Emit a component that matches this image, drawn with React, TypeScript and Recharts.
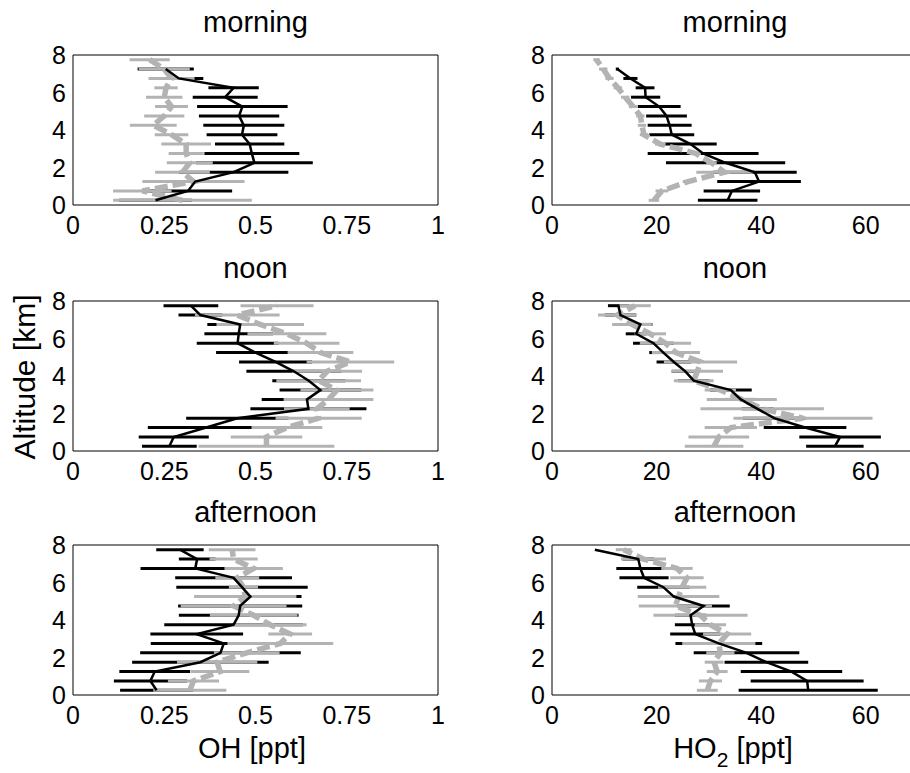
import { ScatterChart, Scatter, XAxis, YAxis, ErrorBar } from 'recharts';

const FONT = 'Arial, "Liberation Sans", Helvetica, sans-serif';

// altitude levels [km], bottom to top
const ALT = [0.25, 0.75, 1.25, 1.75, 2.25, 2.75, 3.25, 3.75, 4.25, 4.75, 5.25, 5.75, 6.25, 6.75, 7.25, 7.75];
const ALT_TICKS = [0, 2, 4, 6, 8];
const OH_TICKS = [0, 0.25, 0.5, 0.75, 1];
const HO2_TICKS = [0, 20, 40, 60];

// morning
const morningOH = [0.226, 0.315, 0.335, 0.44, 0.497, 0.49, 0.484, 0.463, 0.468, 0.455, 0.464, 0.417, 0.44, 0.29, 0.254, null];
const morningOHErr = [0.1, 0.121, 0.1, 0.15, 0.16, 0.13, 0.095, 0.097, 0.111, 0.11, 0.124, 0.089, 0.069, 0.067, 0.077, null];
const morningOHModel = [0.3, 0.19, 0.33, 0.3, 0.32, 0.31, 0.31, 0.27, 0.22, 0.25, 0.27, 0.25, 0.255, 0.27, 0.25, 0.21];
const morningOHModelErr = [0.19, 0.08, 0.14, 0.075, 0.063, 0.048, 0.068, 0.046, 0.064, 0.055, 0.045, 0.05, 0.032, 0.063, 0.07, 0.055];

const morningHO2 = [33.6, 34.4, 39.6, 38.8, 33.2, 28.9, 26.5, 22.9, 22.5, 21.9, 20.5, 17.9, 17.8, 15.0, 12.5, null];
const morningHO2Err = [5.7, 5.4, 8, 8, 11.4, 10.6, 5, 4.3, 4.2, 3.9, 4.1, 2.8, 1.8, 1.35, 0.3, null];
const morningHO2Model = [19.5, 21.0, 26.0, 33.0, 30.5, 27.5, 20.7, 17.6, 17.2, 16.9, 15.5, 14.0, 12.6, 11.0, 9.8, 8.5];
const morningHO2ModelErr = [1, 1.2, 1, 5.4, 1, 1, 1, 0.8, 0.8, 0.8, 0.8, 0.8, 0.8, 0.8, 0.8, 0.6];

// noon
const noonOH = [0.264, 0.276, 0.365, 0.45, 0.645, 0.641, 0.678, 0.646, 0.605, 0.555, 0.5, 0.451, 0.454, 0.458, 0.349, 0.323];
const noonOHErr = [0.075, 0.096, 0.16, 0.14, 0.159, 0.124, 0.112, 0.1, 0.13, 0.1, 0.108, 0.112, 0.094, 0.09, 0.06, 0.075];
const noonOHModel = [0.53, 0.53, 0.586, 0.673, 0.668, 0.7, 0.723, 0.673, 0.696, 0.76, 0.678, 0.64, 0.586, 0.513, 0.45, 0.559];
const noonOHModelErr = [0.186, 0.098, 0.097, 0.118, 0.09, 0.123, 0.1, 0.116, 0.096, 0.12, 0.09, 0.09, 0.108, 0.12, 0.116, 0.1];

const noonHO2 = [54.1, 55.1, 48.4, 42.5, 39.3, 36.1, 34.2, 27.1, 25.5, 23.3, 21.3, 19.4, 16.1, 16.9, 13.1, 12.7];
const noonHO2Err = [5.5, 7.8, 7.9, 6, 3, 3, 4, 3, 2.6, 3.3, 2.7, 3.9, 2, 2.3, 3, 2];
const noonHO2Model = [31.0, 31.9, 34.2, 48.0, 40.2, 36.3, 32.2, 27.1, 27.8, 28.4, 23.7, 21.7, 18.8, 15.3, 12.5, 15.9];
const noonHO2ModelErr = [5.6, 5.8, 5, 13.3, 11.8, 6.7, 3, 3.8, 4.9, 7, 4.6, 4.9, 3, 3.8, 3.7, 3];

// afternoon
const afternoonOH = [0.229, 0.212, 0.224, 0.349, 0.404, 0.413, 0.339, 0.44, 0.454, 0.458, 0.486, 0.463, 0.44, 0.335, 0.34, 0.293];
const afternoonOHErr = [0.1, 0.1, 0.097, 0.187, 0.22, 0.2, 0.127, 0.19, 0.164, 0.17, 0.14, 0.18, 0.16, 0.15, 0.05, 0.065];
const afternoonOHModel = [0.32, 0.33, 0.403, 0.395, 0.476, 0.568, 0.595, 0.54, 0.495, 0.44, 0.472, 0.467, 0.45, 0.495, 0.44, 0.436];
const afternoonOHModelErr = [0.1, 0.07, 0.08, 0.11, 0.09, 0.145, 0.06, 0.1, 0.12, 0.145, 0.14, 0.04, 0.06, 0.08, 0.066, 0.064];

const afternoonHO2 = [49.0, 48.8, 45.8, 41.0, 37.2, 31.9, 27.4, 26.8, 26.5, 29.0, 23.3, 21.3, 17.6, 16.9, 16.5, 8.2];
const afternoonHO2Err = [13.3, 10.8, 9.7, 8, 10.1, 8.3, 4.8, 3.3, 3, 5, 4, 5, 4.7, 4.6, 3, 0];
const afternoonHO2Model = [29.7, 30.3, 31.6, 31.0, 32.2, 31.9, 33.5, 30.3, 28.4, 23.6, 24.2, 24.9, 25.8, 23.9, 17.5, 13.7];
const afternoonHO2ModelErr = [2, 2.2, 2, 1.8, 2.7, 7, 4.6, 3, 9, 7, 7.8, 4.6, 3.2, 3, 4.3, 1.5];

const PLOT_H = 150;
const Y_AXIS_W = 60;
const X_AXIS_H = 40;
const MARGIN_TOP = 20;
const MARGIN_RIGHT = 20;

const BLACK = '#000000';
const GREY = '#b3b3b3';

interface Row {
  y: number;
  x: number;
  e: number;
}

function toRows(xs: (number | null)[], errs: (number | null)[]): Row[] {
  const rows: Row[] = [];
  ALT.forEach((alt, i) => {
    const x = xs[i];
    if (x === null || x === undefined) return;
    rows.push({ y: alt, x, e: errs[i] ?? 0 });
  });
  return rows;
}

const NoDot = () => <g />;

const XTick = ({ x, y, payload }: any) => (
  <text x={x} y={y} dy="0.71em" textAnchor="middle" fontSize={25} fontFamily={FONT} fill="#000">
    {String(payload.value)}
  </text>
);

const YTick = ({ x, y, payload }: any) => (
  <text x={x} y={y} dy="0.36em" textAnchor="end" fontSize={25} fontFamily={FONT} fill="#000">
    {String(payload.value)}
  </text>
);

interface PanelProps {
  left: number;
  top: number;
  width: number;
  domain: [number, number];
  ticks: number[];
  obs: (number | null)[];
  obsErr: (number | null)[];
  model: number[];
  modelErr: number[];
}

function Panel({ left, top, width, domain, ticks, obs, obsErr, model, modelErr }: PanelProps) {
  const obsRows = toRows(obs, obsErr);
  const modelRows = toRows(model, modelErr);

  return (
    <div style={{ position: 'absolute', left: left - Y_AXIS_W, top: top - MARGIN_TOP }}>
      <ScatterChart
        width={Y_AXIS_W + width + MARGIN_RIGHT}
        height={MARGIN_TOP + PLOT_H + X_AXIS_H}
        margin={{ top: MARGIN_TOP, right: MARGIN_RIGHT, bottom: 0, left: 0 }}
      >
        <XAxis
          xAxisId="x"
          type="number"
          dataKey="x"
          domain={domain}
          ticks={ticks}
          interval={0}
          allowDataOverflow
          height={X_AXIS_H}
          tickLine={false}
          tickSize={0}
          tickMargin={11}
          axisLine={{ stroke: BLACK }}
          tick={<XTick />}
        />
        {/* inward ticks + box */}
        <XAxis xAxisId="xb" type="number" domain={domain} ticks={ticks} interval={0} allowDataOverflow
          orientation="bottom" mirror height={1} tick={false} tickSize={4} axisLine={false} tickLine={{ stroke: BLACK }} />
        <XAxis xAxisId="xt" type="number" domain={domain} ticks={ticks} interval={0} allowDataOverflow
          orientation="top" mirror height={1} tick={false} tickSize={4} axisLine={{ stroke: BLACK }} tickLine={{ stroke: BLACK }} />
        <YAxis
          yAxisId="y"
          type="number"
          dataKey="y"
          domain={[0, 8]}
          ticks={ALT_TICKS}
          interval={0}
          allowDataOverflow
          width={Y_AXIS_W}
          tickLine={false}
          tickSize={0}
          tickMargin={7}
          axisLine={{ stroke: BLACK }}
          tick={<YTick />}
        />
        <YAxis yAxisId="yl" type="number" domain={[0, 8]} ticks={ALT_TICKS} interval={0} allowDataOverflow
          orientation="left" mirror width={1} tick={false} tickSize={4} axisLine={false} tickLine={{ stroke: BLACK }} />
        <YAxis yAxisId="yr" type="number" domain={[0, 8]} ticks={ALT_TICKS} interval={0} allowDataOverflow
          orientation="right" mirror width={1} tick={false} tickSize={4} axisLine={{ stroke: BLACK }} tickLine={{ stroke: BLACK }} />

        {/* observed error bars */}
        <Scatter xAxisId="x" yAxisId="y" data={obsRows} shape={NoDot} isAnimationActive={false}>
          <ErrorBar dataKey="e" direction="x" width={0} stroke={BLACK} strokeWidth={3} isAnimationActive={false} />
        </Scatter>
        {/* model: dashed grey with grey bars */}
        <Scatter
          xAxisId="x"
          yAxisId="y"
          data={modelRows}
          shape={NoDot}
          line={{ stroke: GREY, strokeWidth: 5.5, strokeDasharray: '13 5' }}
          lineType="joint"
          isAnimationActive={false}
        >
          <ErrorBar dataKey="e" direction="x" width={0} stroke={GREY} strokeWidth={3} isAnimationActive={false} />
        </Scatter>
        {/* observed profile line on top */}
        <Scatter
          xAxisId="x"
          yAxisId="y"
          data={obsRows}
          shape={NoDot}
          line={{ stroke: BLACK, strokeWidth: 2.5 }}
          lineType="joint"
          isAnimationActive={false}
        />
      </ScatterChart>
    </div>
  );
}

const LEFT_X = 73;
const RIGHT_X = 552;
const ROW_Y = [55, 301, 545];

export default function App() {
  return (
    <div
      style={{
        position: 'absolute',
        left: 0,
        top: 0,
        width: 910,
        height: 773,
        overflow: 'hidden',
        background: '#fff',
        fontFamily: FONT,
      }}
    >
      <Panel left={LEFT_X} top={ROW_Y[0]} width={365} domain={[0, 1]} ticks={OH_TICKS}
        obs={morningOH} obsErr={morningOHErr} model={morningOHModel} modelErr={morningOHModelErr} />
      <Panel left={RIGHT_X} top={ROW_Y[0]} width={366} domain={[0, 70]} ticks={HO2_TICKS}
        obs={morningHO2} obsErr={morningHO2Err} model={morningHO2Model} modelErr={morningHO2ModelErr} />
      <Panel left={LEFT_X} top={ROW_Y[1]} width={365} domain={[0, 1]} ticks={OH_TICKS}
        obs={noonOH} obsErr={noonOHErr} model={noonOHModel} modelErr={noonOHModelErr} />
      <Panel left={RIGHT_X} top={ROW_Y[1]} width={366} domain={[0, 70]} ticks={HO2_TICKS}
        obs={noonHO2} obsErr={noonHO2Err} model={noonHO2Model} modelErr={noonHO2ModelErr} />
      <Panel left={LEFT_X} top={ROW_Y[2]} width={365} domain={[0, 1]} ticks={OH_TICKS}
        obs={afternoonOH} obsErr={afternoonOHErr} model={afternoonOHModel} modelErr={afternoonOHModelErr} />
      <Panel left={RIGHT_X} top={ROW_Y[2]} width={366} domain={[0, 70]} ticks={HO2_TICKS}
        obs={afternoonHO2} obsErr={afternoonHO2Err} model={afternoonHO2Model} modelErr={afternoonHO2ModelErr} />

      {/* titles and axis labels */}
      <svg
        width={910}
        height={773}
        style={{ position: 'absolute', left: 0, top: 0, pointerEvents: 'none' }}
        fontFamily={FONT}
        fill="#000"
      >
        <text x={255.5} y={32} fontSize={29} textAnchor="middle">morning</text>
        <text x={735} y={32} fontSize={29} textAnchor="middle">morning</text>
        <text x={255.5} y={278} fontSize={29} textAnchor="middle">noon</text>
        <text x={735} y={278} fontSize={29} textAnchor="middle">noon</text>
        <text x={255.5} y={522} fontSize={29} textAnchor="middle">afternoon</text>
        <text x={735} y={522} fontSize={29} textAnchor="middle">afternoon</text>

        <text x={252} y={758} fontSize={29} textAnchor="middle">OH [ppt]</text>
        <text x={733} y={758} fontSize={29} textAnchor="middle">
          HO<tspan fontSize={21} dy={9}>2</tspan>
          <tspan dy={-9}> [ppt]</tspan>
        </text>
        <text x={35} y={377} fontSize={30} textAnchor="middle" transform="rotate(-90, 35, 377)">
          Altitude [km]
        </text>
      </svg>
    </div>
  );
}
